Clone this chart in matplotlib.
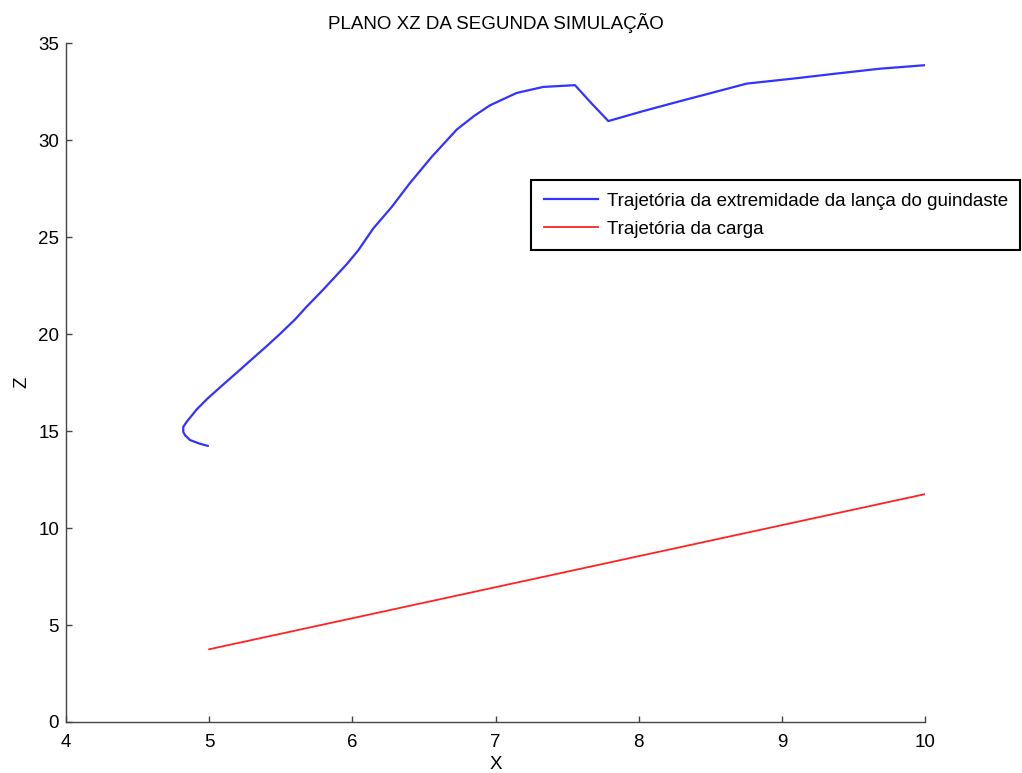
import matplotlib
matplotlib.use("Agg")
import matplotlib.pyplot as plt

# trajectory of the crane boom tip
lanca_x = [4.99, 4.93, 4.866, 4.831, 4.819, 4.819, 4.843, 4.913, 4.99, 5.09, 5.192,
           5.30, 5.409, 5.50, 5.60, 5.676, 5.797, 5.961, 6.042, 6.146, 6.275, 6.403,
           6.554, 6.729, 6.85, 6.961, 7.148, 7.334, 7.555, 7.672, 7.788, 8.03, 8.266,
           8.498, 8.754, 9.08, 9.383, 9.686, 10.0]
lanca_z = [14.24, 14.36, 14.54, 14.79, 14.96, 15.22, 15.48, 16.12, 16.69, 17.35, 18.01,
           18.72, 19.43, 20.05, 20.76, 21.38, 22.30, 23.61, 24.33, 25.45, 26.56, 27.80,
           29.14, 30.55, 31.25, 31.80, 32.44, 32.75, 32.84, 31.89, 30.99, 31.50, 31.97,
           32.42, 32.92, 33.18, 33.44, 33.69, 33.87]

# trajectory of the load
carga_x = [5.0, 10.0]
carga_z = [3.75, 11.75]

titulo = "PLANO XZ DA SEGUNDA SIMULAÇÃO"
legenda = ["Trajetória da extremidade da lança do guindaste", "Trajetória da carga"]

plt.rcParams["font.family"] = ["Liberation Sans", "DejaVu Sans"]

fig = plt.figure(figsize=(10.22, 7.73), dpi=100)
ax = fig.add_axes([0.0646, 0.066, 0.8405, 0.878])

ax.plot(lanca_x, lanca_z, color="#3333ff", linewidth=1.6, label=legenda[0])
ax.plot(carga_x, carga_z, color="#ff2222", linewidth=1.3, label=legenda[1])

ax.set_xlim(4, 10)
ax.set_ylim(0, 35)
ax.set_xticks(range(4, 11))
ax.set_yticks(range(0, 36, 5))

ax.spines["top"].set_visible(False)
ax.spines["right"].set_visible(False)
for s in ("left", "bottom"):
    ax.spines[s].set_color("#444444")
    ax.spines[s].set_linewidth(1.0)
ax.tick_params(direction="in", length=4.5, width=1.0, color="#444444",
               labelsize=13.5)
ax.tick_params(axis="x", pad=8.5)
ax.tick_params(axis="y", pad=5)

ax.set_title(titulo, fontsize=13.5, pad=10.5)
ax.set_xlabel("X", fontsize=13.5)
ax.set_ylabel("Z", fontsize=13.5)
ax.xaxis.set_label_coords(0.5, -0.050)
ax.yaxis.set_label_coords(-0.042, 0.5)

leg = ax.legend(loc="upper left", bbox_to_anchor=(0.52, 0.767),
                bbox_transform=fig.transFigure, fontsize=13.5, fancybox=False,
                framealpha=1, edgecolor="black", handlelength=2.9,
                handletextpad=0.45, borderpad=0.66, labelspacing=0.6,
                borderaxespad=0)
leg.get_frame().set_linewidth(1.5)

fig.savefig("out.png", dpi=100)
